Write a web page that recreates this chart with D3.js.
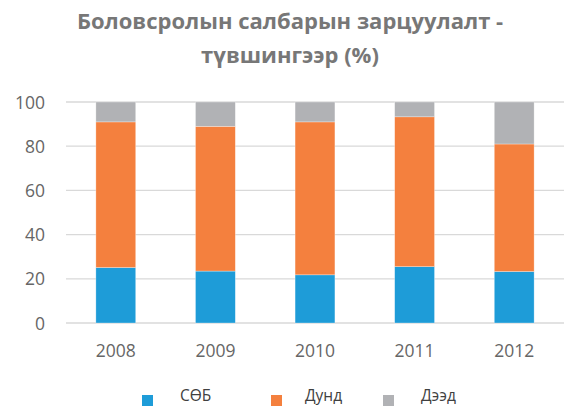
<!DOCTYPE html>
<html><head><meta charset="utf-8">
<script src="https://cdn.jsdelivr.net/npm/d3@7"></script>
<style>body{margin:0;background:#fff}svg{display:block}</style>
</head><body>
<script>
const years = ["2008","2009","2010","2011","2012"];
const sob = [25.1, 23.5, 21.8, 25.5, 23.3];
const dund = [65.9, 65.5, 69.2, 67.8, 57.7];
const deed = [9.0, 11.0, 9.0, 6.7, 19.0];
const seriesNames = ["СӨБ", "Дунд", "Дээд"];
const colors = ["#1e9cd8", "#f4803e", "#b1b2b5"];
const yTicks = [0, 20, 40, 60, 80, 100];

const W = 564, H = 406;
const svg = d3.select("body").append("svg").attr("width", W).attr("height", H);
const font = "'Open Sans', sans-serif";

svg.append("text").attr("x", 290).attr("y", 29).attr("text-anchor", "middle")
  .attr("font-family", font).attr("font-weight", "bold").attr("font-size", 22).attr("fill", "#777777")
  .text("Боловсролын салбарын зарцуулалт -");
svg.append("text").attr("x", 290).attr("y", 63).attr("text-anchor", "middle")
  .attr("font-family", font).attr("font-weight", "bold").attr("font-size", 22).attr("fill", "#777777")
  .text("түвшингээр (%)");

const x = d3.scaleBand().domain(years).range([66, 564]).paddingInner(0.6).paddingOuter(0.3);
const y = d3.scaleLinear().domain([0, 100]).range([323, 102]);

const grid = svg.append("g");
grid.selectAll("line").data(yTicks).join("line")
  .attr("x1", 66).attr("x2", 564).attr("y1", d => y(d)).attr("y2", d => y(d))
  .attr("stroke", "#d9d9d9").attr("stroke-width", 1.3);

const yAxis = svg.append("g").attr("transform", "translate(45,0)")
  .call(d3.axisLeft(y).tickValues(yTicks).tickSize(0).tickPadding(0));
yAxis.select(".domain").remove();
yAxis.selectAll("text").attr("font-family", font).attr("font-size", 17.5).attr("fill", "#666666").attr("dy", "0.35em");

const data = years.map((yr, i) => ({year: yr, s0: sob[i], s1: dund[i], s2: deed[i]}));
const stack = d3.stack().keys(["s0", "s1", "s2"])(data);

svg.append("g").selectAll("g").data(stack).join("g")
  .attr("fill", (d, i) => colors[i])
  .selectAll("rect").data(d => d).join("rect")
  .attr("x", d => x(d.data.year))
  .attr("width", x.bandwidth())
  .attr("y", d => y(d[1]))
  .attr("height", d => y(d[0]) - y(d[1]))
  .attr("stroke", "#ffffff").attr("stroke-opacity", 0.5).attr("stroke-width", 0.6);

const xAxis = svg.append("g").attr("transform", "translate(0,323)")
  .call(d3.axisBottom(x).tickSize(0).tickPadding(0));
xAxis.select(".domain").remove();
xAxis.selectAll("text").attr("font-family", font).attr("font-size", 17.5).attr("fill", "#666666")
  .attr("y", 34).attr("dy", 0);

const legendX = [142, 271, 383];
const legendTextX = [180, 305, 421];
const lg = svg.append("g");
seriesNames.forEach((n, i) => {
  lg.append("rect").attr("x", legendX[i]).attr("y", 395).attr("width", 11).attr("height", 11).attr("fill", colors[i]);
  lg.append("text").attr("x", legendTextX[i]).attr("y", 400.5).attr("font-family", font).attr("font-size", 15.5)
    .attr("fill", "#404040").text(n);
});
</script>
</body></html>
